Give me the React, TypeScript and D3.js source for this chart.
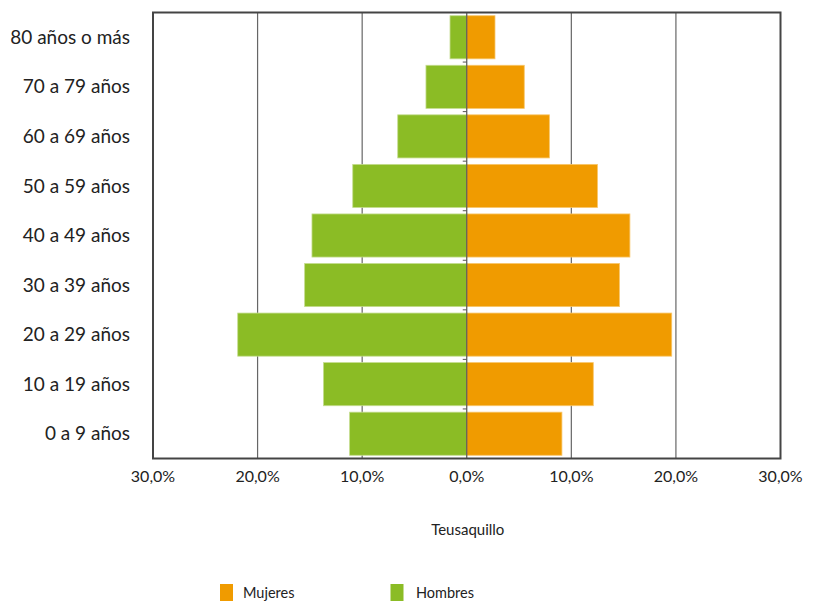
import React from "react";
import * as d3 from "d3";

const categories = ["80 años o más", "70 a 79 años", "60 a 69 años", "50 a 59 años", "40 a 49 años", "30 a 39 años", "20 a 29 años", "10 a 19 años", "0 a 9 años"];
const hombres = [1.6, 3.9, 6.6, 10.9, 14.8, 15.5, 21.9, 13.7, 11.2];
const mujeres = [2.7, 5.5, 7.9, 12.5, 15.6, 14.6, 19.6, 12.1, 9.1];
const xTicks = [-30, -20, -10, 0, 10, 20, 30];
const title = "Teusaquillo";
const seriesNames = ["Mujeres", "Hombres"];

const W = 817, H = 601;
const left = 153, right = 780.5, top = 12.5, bottom = 458.5;
const FONT = "Lato, 'Noto Sans', sans-serif";
const ORANGE = "#F09B00";
const GREEN = "#8BBC25";

export default function App() {
  const x = d3.scaleLinear().domain([-30, 30]).range([left, right]);
  const y = d3.scaleBand<string>().domain(categories).range([top, bottom]).paddingInner(0.13).paddingOuter(0.065);
  const fmt = (v: number) => d3.format(".1f")(Math.abs(v)).replace(".", ",") + "%";
  const step = y.step();
  return (
    <svg width={W} height={H} style={{ position: "absolute", left: 0, top: 0, background: "#fff" }} fontFamily={FONT}>
      {xTicks.filter((t) => t !== 0 && Math.abs(t) !== 30).map((t) => (
        <line key={t} x1={x(t)} x2={x(t)} y1={top} y2={bottom} stroke="#666" strokeWidth={1.2} />
      ))}
      {categories.map((c, i) => (
        <g key={c}>
          <rect x={x(-hombres[i])} y={y(c)!} width={x(0) - x(-hombres[i])} height={y.bandwidth()} fill={GREEN} stroke="#c4dc8e" strokeWidth={0.8} />
          <rect x={x(0)} y={y(c)!} width={x(mujeres[i]) - x(0)} height={y.bandwidth()} fill={ORANGE} stroke="#f8c66a" strokeWidth={0.8} />
        </g>
      ))}
      <line x1={x(0)} x2={x(0)} y1={top} y2={bottom} stroke="#555" strokeWidth={1.2} />
      {categories.slice(1).map((c, i) => {
        const yy = top + step * (i + 1);
        return <line key={c} x1={x(0) - 4} x2={x(0)} y1={yy} y2={yy} stroke="#555" strokeWidth={1} />;
      })}
      <rect x={left} y={top} width={right - left} height={bottom - top} fill="none" stroke="#444" strokeWidth={2} />
      {categories.map((c) => (
        <text key={c} x={130} y={y(c)! + y.bandwidth() / 2} dy="0.35em" textAnchor="end" fontSize={19} fill="#222">{c}</text>
      ))}
      {xTicks.map((t) => (
        <text key={t} x={x(t)} y={481.5} textAnchor="middle" fontSize={16} fill="#222">{fmt(t)}</text>
      ))}
      <text x={x(0) + 1} y={535} textAnchor="middle" fontSize={15} fill="#222">{title}</text>
      <rect x={220} y={584} width={13} height={17} fill={ORANGE} />
      <text x={243} y={598} fontSize={14.5} fill="#222">{seriesNames[0]}</text>
      <rect x={390.5} y={584} width={13} height={17} fill={GREEN} />
      <text x={416} y={598} fontSize={14.5} fill="#222">{seriesNames[1]}</text>
    </svg>
  );
}
